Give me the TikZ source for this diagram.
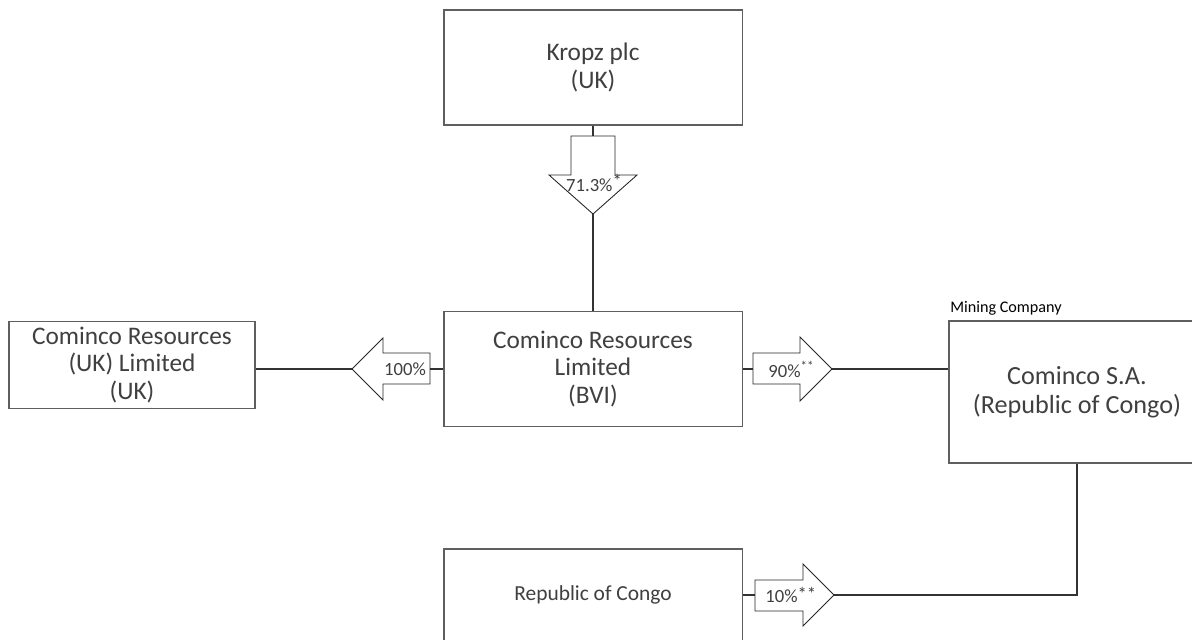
\documentclass[tikz,border=0pt]{standalone}
\usepackage{fontspec}
\setmainfont{Carlito}
\usepackage{tikz}
\usepackage{xcolor}
\usetikzlibrary{positioning}
\definecolor{inktext}{HTML}{404040}
\definecolor{boxline}{HTML}{5F5F5F}

\begin{document}
\begin{tikzpicture}[x=0.02cm,y=-0.02cm,
        company/.style={draw=boxline,line width=1.1pt,fill=white,align=center,text=inktext,
            font=\fontsize{14.4}{15.8}\selectfont,inner sep=0pt},
        share/.style={text=inktext,font=\fontsize{10.6}{12}\selectfont,inner sep=0pt},
        blockarrow/.style={draw=black!85,line width=0.5pt,fill=white,line join=miter},
        link/.style={draw=black!80,line width=0.8pt}]
                \useasboundingbox (0,0) rectangle (1192,639);
                \clip (0,0) rectangle (1192,639);

                \node[company,minimum width=5.98cm,minimum height=2.3cm] (kropz) at (593,67.5) {Kropz plc\\(UK)};
                \node[company,minimum width=5.98cm,minimum height=2.3cm] (bvi) at (593,369) {Cominco Resources\\Limited\\(BVI)};
                \node[company,minimum width=4.92cm,minimum height=1.74cm] (ukltd) at (132,365) {Cominco Resources\\(UK) Limited\\(UK)};
                \node[company,minimum width=5.12cm,minimum height=2.84cm,font=\fontsize{14.9}{16.4}\selectfont] (cominco) at (1077,392) {Cominco S.A.\\(Republic of Congo)};
                \node[company,minimum width=5.98cm,minimum height=1.84cm,font=\fontsize{12.2}{14}\selectfont] (congo) at (593,595) {Republic of Congo};
                \node[anchor=base west,inner sep=0pt,text=black,font=\fontsize{9.2}{11}\selectfont] (minelabel) at (950,312) {Mining Company};

                \draw[blockarrow] (571,136) -- (615,136) -- (615,175) -- (637,175) -- (593,214) -- (549,175) -- (571,175) -- cycle;
                \draw[blockarrow] (430,353) -- (383,353) -- (383,338) -- (352,369) -- (383,400) -- (383,384) -- (430,384) -- cycle;
                \draw[blockarrow] (753,353) -- (800,353) -- (800,337) -- (832,369) -- (800,401) -- (800,384) -- (753,384) -- cycle;
                \draw[blockarrow] (755,580) -- (803,580) -- (803,564) -- (834,595) -- (803,626) -- (803,611) -- (755,611) -- cycle;

                \coordinate (down-tail) at (593,136);
                \coordinate (down-tip) at (593,214);
                \coordinate (left-tail) at (430,369);
                \coordinate (left-tip) at (352,369);
                \coordinate (right-tail) at (753,369);
                \coordinate (right-tip) at (832,369);
                \coordinate (low-tail) at (755,595);
                \coordinate (low-tip) at (834,595);

                \node[share] (pct-kropz) at (594,183) {71.3\%\raisebox{0.45ex}{*}};
                \node[share] (pct-uk) at (405,369) {100\%};
                \node[share,anchor=west] (pct-sa) at (768,369) {90\%\textsuperscript{**}};
                \node[share,anchor=west] (pct-congo) at (765,595) {10\%\raisebox{0.3ex}{**}};

                \draw[link] (kropz.south) -- (down-tail);
                \draw[link] (down-tip) -- (bvi.north);
                \draw[link] (bvi.west) -- (left-tail);
                \draw[link] (left-tip) -- (ukltd.east |- left-tip);
                \draw[link] (bvi.east) -- (right-tail);
                \draw[link] (right-tip) -- (cominco.west |- right-tip);
                \draw[link] (congo.east) -- (low-tail);
                \draw[link] (low-tip) -| (cominco.south);
\end{tikzpicture}
\end{document}
